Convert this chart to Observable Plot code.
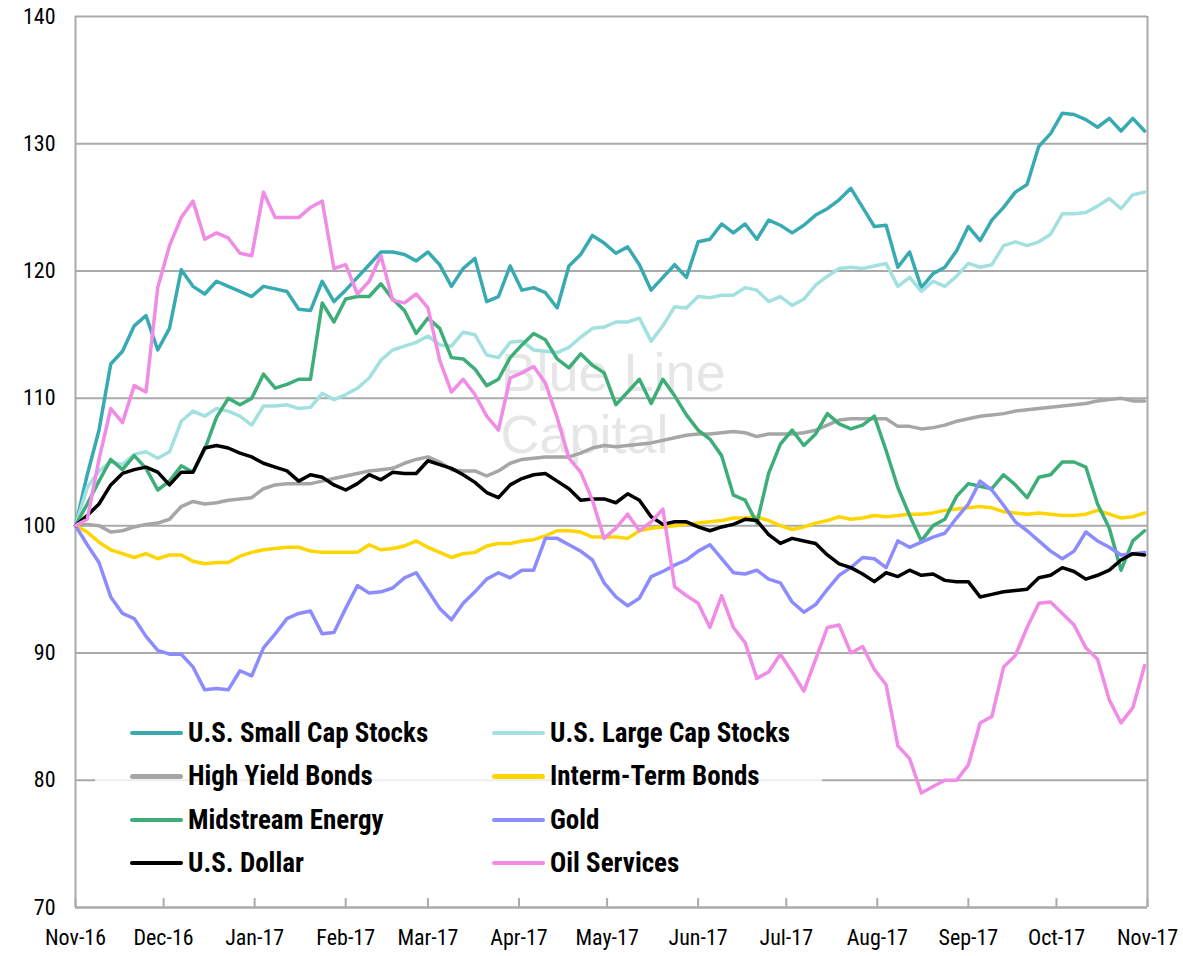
<!DOCTYPE html>
<html><head><meta charset="utf-8">
<script src="https://cdn.jsdelivr.net/npm/d3@7"></script>
<script src="https://cdn.jsdelivr.net/npm/@observablehq/plot@0.6"></script>
<style>
body{margin:0;background:#fff;}
#wrap{position:relative;width:1183px;height:956px;}
.lg{position:absolute;left:95px;top:705px;width:727px;height:185px;background:rgba(255,255,255,0.8);}
.item{position:absolute;display:flex;align-items:center;height:30px;font-weight:bold;font-size:27px;font-family:"Liberation Sans Narrow","Arial Narrow","Roboto Condensed",sans-serif;font-stretch:condensed;color:#000;white-space:nowrap;}
.sw{width:53px;height:4.5px;border-radius:2.5px;margin-right:5px;}
</style></head>
<body><div id="wrap"></div>
<script>
const seriesNames = ["U.S. Small Cap Stocks","U.S. Large Cap Stocks","High Yield Bonds","Interm-Term Bonds","Midstream Energy","Gold","U.S. Dollar","Oil Services"];
const seriesColors = ["#38abb2","#a3e0e0","#a6a6a6","#ffd500","#3dae78","#8c8cff","#000000","#f08be6"];
const xTickLabels = ["Nov-16","Dec-16","Jan-17","Feb-17","Mar-17","Apr-17","May-17","Jun-17","Jul-17","Aug-17","Sep-17","Oct-17","Nov-17"];
const yTicks = [70,80,90,100,110,120,130,140];
const startDate = "2016-11-01";
const stepDays = 4;

const smallCap = [100,104,107.5,112.7,113.7,115.7,116.5,113.8,115.5,120.1, 118.8,118.2,119.2,118.8,118.4,118,118.8,118.6,118.4,117, 116.9,119.2,117.6,118.5,119.5,120.5,121.5,121.5,121.3,120.8, 121.5,120.5,118.8,120.2,121,117.6,118,120.4,118.5,118.7, 118.3,117.1,120.4,121.3,122.8,122.2,121.4,121.9,120.5,118.5, 119.5,120.5,119.5,122.3,122.5,123.7,123,123.7,122.5,124, 123.6,123,123.6,124.4,124.9,125.6,126.5,125,123.5,123.6, 120.3,121.5,118.7,119.8,120.3,121.6,123.5,122.4,124,125, 126.2,126.8,129.8,130.8,132.4,132.3,131.9,131.3,132,131, 132,131];
const largeCap = [100,103,104.3,105,104.8,105.6,105.8,105.3,105.8,108.2, 109,108.6,109.2,109,108.6,107.9,109.4,109.4,109.5,109.2, 109.3,110.4,109.9,110.3,110.8,111.6,113,113.8,114.1,114.4, 114.9,114.2,114.1,115.2,115,113.4,113.2,114.4,114.5,113.8, 113.7,113.6,114,114.8,115.5,115.6,116,116,116.3,114.5, 115.7,117.2,117.1,118,117.9,118.1,118.1,118.7,118.5,117.6, 118,117.3,117.8,118.9,119.6,120.2,120.3,120.2,120.4,120.6, 118.8,119.5,118.4,119.2,118.8,119.6,120.6,120.3,120.5,122, 122.3,122,122.3,122.9,124.5,124.5,124.6,125.1,125.7,124.9, 126,126.2];
const highYield = [100,100.1,100,99.5,99.6,99.9,100.1,100.2,100.5,101.5, 101.9,101.7,101.8,102,102.1,102.2,102.9,103.2,103.3,103.3, 103.3,103.5,103.7,103.9,104.1,104.3,104.4,104.5,104.9,105.2, 105.4,105,104.4,104.3,104.3,103.9,104.3,104.9,105.2,105.3, 105.4,105.4,105.4,105.7,106.1,106.3,106.2,106.3,106.4,106.5, 106.7,106.9,107.1,107.2,107.2,107.3,107.4,107.3,107,107.2, 107.2,107.2,107.3,107.5,107.9,108.3,108.4,108.4,108.4,108.4, 107.8,107.8,107.6,107.7,107.9,108.2,108.4,108.6,108.7,108.8, 109,109.1,109.2,109.3,109.4,109.5,109.6,109.8,109.9,110, 109.8,109.8];
const intermBonds = [100,99.5,98.7,98.1,97.8,97.5,97.8,97.4,97.7,97.7, 97.2,97,97.1,97.1,97.6,97.9,98.1,98.2,98.3,98.3, 98,97.9,97.9,97.9,97.9,98.5,98.1,98.2,98.4,98.8, 98.3,97.9,97.5,97.8,97.9,98.4,98.6,98.6,98.8,98.9, 99.2,99.6,99.6,99.5,99.1,99.1,99.1,99,99.6,99.8, 99.9,100,100.1,100.2,100.3,100.4,100.6,100.6,100.7,100.4, 100,99.7,99.9,100.2,100.4,100.7,100.5,100.6,100.8,100.7, 100.8,100.9,100.9,101,101.2,101.3,101.4,101.5,101.4,101.1, 101,100.9,101,100.9,100.8,100.8,100.9,101.2,100.9,100.6, 100.7,101];
const midstream = [100,101.7,103.5,105.2,104.4,105.5,104.5,102.8,103.5,104.7, 104.2,106,108.5,110,109.5,110,111.9,110.8,111.1,111.5, 111.5,117.5,116,117.8,118,118,119,117.8,116.9,115.1, 116.3,115.5,113.2,113.1,112.3,111,111.5,113.2,114.2,115.1, 114.6,113.1,112.4,113.5,112.6,112,109.5,110.5,111.5,109.6, 111.5,110.2,108.7,107.5,106.8,105.5,102.4,102,100.2,104.1, 106.4,107.5,106.3,107.2,108.8,108,107.6,107.9,108.6,105.9, 103,100.8,98.8,100,100.5,102.3,103.3,103.1,102.9,104, 103.2,102.2,103.8,104,105,105,104.6,101.7,99.8,96.5, 98.8,99.6];
const gold = [100,98.5,97.1,94.4,93.1,92.7,91.3,90.2,89.9,89.9, 88.9,87.1,87.2,87.1,88.6,88.2,90.4,91.5,92.7,93.1, 93.3,91.5,91.6,93.5,95.3,94.7,94.8,95.1,95.9,96.3, 94.9,93.5,92.6,93.9,94.8,95.8,96.3,95.9,96.5,96.5, 99,99,98.5,98,97.3,95.5,94.4,93.7,94.3,96, 96.4,96.9,97.3,98,98.5,97.4,96.3,96.2,96.5,95.8, 95.5,94,93.2,93.8,95,96.1,96.7,97.5,97.4,96.7, 98.8,98.3,98.7,99.1,99.4,100.6,101.7,103.5,102.8,101.6, 100.3,99.6,98.8,98,97.4,98,99.5,98.8,98.3,97.7, 97.8,97.9];
const usDollar = [100,100.8,101.7,103.2,104.1,104.4,104.6,104.2,103.2,104.2, 104.2,106.1,106.3,106.1,105.7,105.4,104.9,104.6,104.3,103.5, 104,103.8,103.2,102.8,103.3,104,103.6,104.2,104.1,104.1, 105.1,104.8,104.5,104,103.4,102.6,102.2,103.2,103.7,104, 104.1,103.5,102.9,102,102.1,102.1,101.8,102.5,102,100.7, 100.1,100.3,100.3,99.9,99.6,99.9,100.1,100.5,100.4,99.3, 98.6,99,98.8,98.6,97.7,97,96.7,96.2,95.6,96.3, 96,96.5,96.1,96.2,95.7,95.6,95.6,94.4,94.6,94.8, 94.9,95,95.9,96.1,96.7,96.4,95.8,96.1,96.5,97.3, 97.8,97.7];
const oilServices = [100,100.5,105.2,109.2,108.1,111,110.5,118.7,122,124.2, 125.5,122.5,123,122.6,121.4,121.2,126.2,124.2,124.2,124.2, 125,125.5,120.2,120.5,118.2,119.2,121.2,117.7,117.5,118.2, 117.1,113,110.5,111.5,110.3,108.6,107.5,111.6,112,112.5, 111.2,108.5,105.3,104.2,102,99,99.8,100.9,99.6,100.3, 101.3,95.2,94.5,93.9,92,94.5,92,90.8,88,88.5, 89.9,88.5,87,89.5,92,92.2,90,90.5,88.7,87.5, 82.7,81.7,79,79.5,80,80,81.2,84.5,85,88.9, 89.8,92,93.9,94,93.1,92.2,90.4,89.5,86.3,84.5, 85.7,89];

const seriesValues = [smallCap, largeCap, highYield, intermBonds, midstream, gold, usDollar, oilServices];
const parseTick = d3.utcParse("%b-%y");
const xTicks = xTickLabels.map(parseTick);
const t0 = d3.utcParse("%Y-%m-%d")(startDate);
const data = seriesNames.flatMap((name, s) =>
  seriesValues[s].map((v, i) => ({series: name, date: d3.utcDay.offset(t0, i * stepDays), value: v})));

const font = '"Liberation Sans Narrow","Arial Narrow","Roboto Condensed",sans-serif';
const wmFont = '"Liberation Sans", Arial, sans-serif';
const chart = Plot.plot({
  width: 1183, height: 956,
  marginLeft: 75, marginRight: 36, marginTop: 16, marginBottom: 49,
  style: {fontFamily: font, fontSize: "22px", color: "#000", background: "#fff", overflow: "visible"},
  x: {type: "utc", domain: [xTicks[0], xTicks[xTicks.length - 1]], label: null},
  y: {domain: [70, 140], label: null},
  color: {domain: seriesNames, range: seriesColors},
  marks: [
    Plot.text(["Blue Line"], {frameAnchor: "top-left", textAnchor: "start", lineAnchor: "top", dx: 425, dy: 336, fontSize: 54, fill: "#e6e6e6", fontFamily: wmFont}),
    Plot.text(["Capital"], {frameAnchor: "top-left", textAnchor: "start", lineAnchor: "top", dx: 425, dy: 398, fontSize: 54, fill: "#e6e6e6", fontFamily: wmFont}),
    Plot.gridY(yTicks, {stroke: "#aaaaaa", strokeOpacity: 1, strokeWidth: 2}),
    Plot.ruleX([xTicks[0], xTicks[xTicks.length - 1]], {stroke: "#aaaaaa", strokeWidth: 2}),
    Plot.ruleY([70], {stroke: "#aaaaaa", strokeWidth: 2}),
    Plot.ruleX(xTicks, {y1: 70, y2: 70.7, stroke: "#aaaaaa", strokeWidth: 2}),
    Plot.axisX({ticks: xTicks, tickFormat: d3.utcFormat("%b-%y"), tickSize: 0, tickPadding: 22, fontSize: 22, label: null}),
    Plot.axisY({ticks: yTicks, tickSize: 0, tickPadding: 20, fontSize: 22, label: null}),
    Plot.line(data, {x: "date", y: "value", z: "series", stroke: "series", strokeWidth: 3.5, strokeLinejoin: "round", strokeLinecap: "round"})
  ]
});

const wrap = document.getElementById("wrap");
wrap.appendChild(chart);
const lg = document.createElement("div");
lg.className = "lg";
wrap.appendChild(lg);
seriesNames.forEach((name, i) => {
  const col = i % 2, row = Math.floor(i / 2);
  const it = document.createElement("div");
  it.className = "item";
  it.style.left = (col === 0 ? 35 : 397) + "px";
  it.style.top = (13 + row * 43.4) + "px";
  const sw = document.createElement("div");
  sw.className = "sw";
  sw.style.background = seriesColors[i];
  it.appendChild(sw);
  const tx = document.createElement("span");
  tx.textContent = name;
  it.appendChild(tx);
  lg.appendChild(it);
});
</script>
</body></html>
